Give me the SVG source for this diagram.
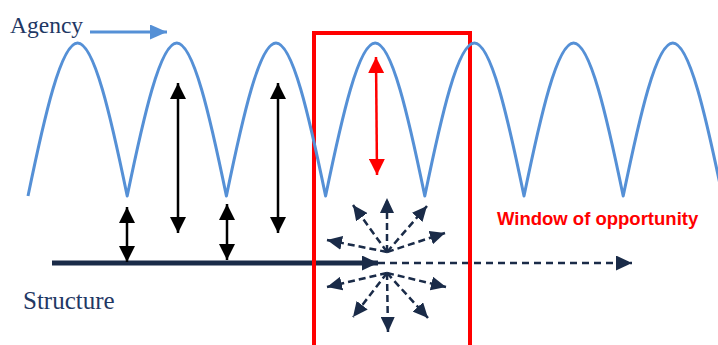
<svg xmlns="http://www.w3.org/2000/svg" width="718" height="345" viewBox="0 0 718 345">
<style>
.lbl{font-family:"Liberation Serif","DejaVu Serif",serif;fill:#1F3864}
.win{font-family:"Liberation Sans",Arial,sans-serif;font-weight:bold;fill:#FF0000;font-size:18.5px}
.blk{stroke:#000;stroke-width:2.5;fill:none;marker-start:url(#ahB);marker-end:url(#ahB)}
.ray{stroke:#1A2B48;stroke-width:2.5;fill:none;stroke-dasharray:7 4;marker-end:url(#ahN)}
.wave{stroke:#5590D6;stroke-width:3;fill:none;stroke-linejoin:round}
</style>
<defs>
<marker id="ahB" viewBox="0 0 16 16" refX="16" refY="8" markerWidth="16" markerHeight="16" markerUnits="userSpaceOnUse" orient="auto-start-reverse"><path d="M0,0 L16,8 L0,16z" fill="#000"/></marker>
<marker id="ahR" viewBox="0 0 16 16" refX="16" refY="8" markerWidth="16" markerHeight="16" markerUnits="userSpaceOnUse" orient="auto-start-reverse"><path d="M0,0 L16,8 L0,16z" fill="#FF0000"/></marker>
<marker id="ahN" viewBox="0 0 15 14" refX="15" refY="7" markerWidth="15" markerHeight="14" markerUnits="userSpaceOnUse" orient="auto"><path d="M0,0 L15,7 L0,14z" fill="#1A2B48"/></marker>
<marker id="ahM" viewBox="0 0 16 15" refX="16" refY="7.5" markerWidth="16" markerHeight="15" markerUnits="userSpaceOnUse" orient="auto"><path d="M0,0 L16,7.5 L0,15z" fill="#1A2B48"/></marker>
<marker id="ahA" viewBox="0 0 17 15" refX="17" refY="7.5" markerWidth="17" markerHeight="15" markerUnits="userSpaceOnUse" orient="auto"><path d="M0,0 L17,7.5 L0,15z" fill="#5590D6"/></marker>
</defs>
<g id="connectors">
<line x1="52" y1="263" x2="378" y2="263" stroke="#1A2B48" stroke-width="5" marker-end="url(#ahM)"/>
<line x1="378" y1="263" x2="632" y2="263" stroke="#1A2B48" stroke-width="2.5" stroke-dasharray="7 5" marker-end="url(#ahM)"/>
<line class="ray" x1="387" y1="252" x2="387" y2="198"/>
<line class="ray" x1="387" y1="252" x2="353" y2="205"/>
<line class="ray" x1="387" y1="252" x2="427" y2="206"/>
<line class="ray" x1="387" y1="252" x2="327" y2="240"/>
<line class="ray" x1="387" y1="252" x2="445" y2="233"/>
<line class="ray" x1="387" y1="273" x2="327" y2="287"/>
<line class="ray" x1="387" y1="273" x2="446" y2="287"/>
<line class="ray" x1="387" y1="273" x2="353" y2="317"/>
<line class="ray" x1="387" y1="273" x2="388" y2="332"/>
<line class="ray" x1="387" y1="273" x2="428" y2="318"/>
<line class="blk" x1="127" y1="207" x2="127" y2="262"/>
<line class="blk" x1="227" y1="204" x2="227" y2="260"/>
<line class="blk" x1="178" y1="83" x2="178" y2="233"/>
<line class="blk" x1="278" y1="83" x2="278" y2="233"/>
<line x1="90" y1="32" x2="167" y2="32" stroke="#5590D6" stroke-width="3" marker-end="url(#ahA)"/>
</g>
<g id="window">
<rect x="314" y="33" width="156" height="330" fill="none" stroke="#FF0000" stroke-width="4"/>
</g>
<g id="agency-wave">
<path class="wave" d="M28,196 c16.5,-80.1 33.1,-153 49.6,-153 c16.5,0 33.1,72.9 49.6,153 c16.5,-80.1 33.1,-153 49.6,-153 c16.5,0 33.1,72.9 49.6,153 c16.5,-80.1 33.1,-153 49.6,-153 c16.5,0 33.1,72.9 49.6,153 c16.5,-80.1 33.1,-153 49.6,-153 c16.5,0 33.1,72.9 49.6,153 c16.5,-80.1 33.1,-153 49.6,-153 c16.5,0 33.1,72.9 49.6,153 c16.5,-80.1 33.1,-153 49.6,-153 c16.5,0 33.1,72.9 49.6,153 c16.5,-80.1 33.1,-153 49.6,-153 c16.5,0 33.1,72.9 49.6,153"/>
</g>
<g id="red-arrow">
<line x1="376" y1="57" x2="377" y2="175" stroke="#FF0000" stroke-width="2.5" marker-start="url(#ahR)" marker-end="url(#ahR)"/>
</g>
<g id="agency-label"><text class="lbl" x="10" y="33" font-size="23.5">Agency</text></g>
<g id="structure-label"><text class="lbl" x="23" y="309" font-size="25">Structure</text></g>
<g id="window-label"><text class="win" x="497" y="225">Window of opportunity</text></g>
</svg>
